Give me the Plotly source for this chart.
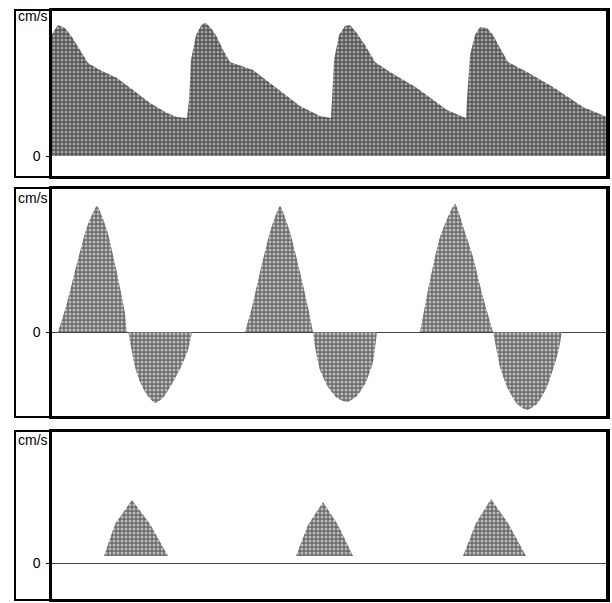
import plotly.graph_objects as go

# ---------------- data (time in ms, velocity in cm/s) ----------------
# Panel 1: continuous forward flow (low-resistance)
p1_t = [0, 30, 65, 100, 140, 180, 240, 325, 405, 490, 575, 625, 675, 685, 695, 720, 750, 770,
        795, 825, 855, 890, 1005, 1125, 1240, 1340, 1395, 1400, 1410, 1435, 1465, 1490, 1520,
        1565, 1615, 1690, 1825, 1975, 2055, 2070, 2075, 2090, 2115, 2140, 2175, 2205, 2240,
        2280, 2375, 2505, 2655, 2775]
p1_v = [122, 131, 128, 119, 106, 93, 86, 78, 66, 53, 43, 39, 38, 56, 96, 121, 132, 133,
        128, 119, 106, 94, 86, 68, 50, 40, 38, 56, 96, 121, 130, 131, 124,
        111, 94, 84, 68, 46, 39, 38, 56, 101, 121, 129, 128, 121, 108,
        94, 84, 69, 49, 39]

# Panel 2: to-and-fro (forward then reversed) flow, one list per beat
p2_beats_t = [
    [30, 75, 125, 175, 225, 275, 325, 365, 375,
     380, 395, 415, 440, 475, 515, 555, 600, 645, 680, 700],
    [965, 1000, 1040, 1090, 1140, 1190, 1240, 1280, 1305,
     1315, 1340, 1380, 1425, 1475, 1525, 1570, 1605, 1625],
    [1840, 1890, 1940, 2015, 2065, 2105, 2155, 2205,
     2225, 2240, 2275, 2325, 2375, 2425, 2475, 2530, 2550],
]
p2_beats_v = [
    [0, 29, 69, 105, 126, 102, 59, 19, 0,
     0, -15, -35, -50, -63, -71, -66, -52, -35, -18, 0],
    [0, 25, 60, 100, 126, 100, 60, 25, 0,
     -15, -38, -55, -66, -70, -64, -50, -30, 0],
    [0, 52, 95, 128, 100, 75, 35, 0,
     -20, -35, -55, -72, -78, -72, -55, -21, 0],
]

# Panel 3: short systolic spikes only (high-resistance)
p3_start = [260, 1220, 2055]
p3_mid_up = [315, 1280, 2120]
p3_peak_t = [400, 1355, 2195]
p3_mid_dn = [490, 1430, 2280]
p3_end = [580, 1505, 2370]
p3_peak_v = [63, 61, 64]
p3_mid_v = [39, 38, 40]
p3_base_v = [7, 7, 7]

T_RANGE = [0, 2775]
Y_RANGES = [[-21, 146], [-85, 144], [-37, 132]]
UNIT = "cm/s"
ZERO_LABEL = "0"

# ---------------- layout geometry (pixels) ----------------
W, H = 612, 603
X_OUT, X_IN, X_R = 15, 52, 607
PANELS = [(10, 177), (188, 417), (431, 600)]   # (top, bottom)
LABEL_Y = [16, 198, 440]

def px(x):
    return x / W

def py(y):
    return 1 - y / H

pattern1 = dict(shape=".", bgcolor="#545454", fgcolor="#a4a4a4", size=4, solidity=0.45, fillmode="replace")
pattern2 = dict(shape=".", bgcolor="#6a6a6a", fgcolor="#bcbcbc", size=4, solidity=0.45, fillmode="replace")

fig = go.Figure()

fig.add_trace(go.Scatter(x=p1_t, y=p1_v, mode="lines", line=dict(width=0, color="#555"),
                         fill="tozeroy", fillcolor="#6a6a6a", fillpattern=pattern1,
                         hoverinfo="skip", xaxis="x", yaxis="y"))

for bt, bv in zip(p2_beats_t, p2_beats_v):
    fig.add_trace(go.Scatter(x=bt, y=bv, mode="lines",
                             line=dict(width=0, color="#777", shape="spline", smoothing=0.5),
                             fill="tozeroy", fillcolor="#8a8a8a", fillpattern=pattern2,
                             hoverinfo="skip", xaxis="x2", yaxis="y2"))

tri_x, tri_y = [], []
for i in range(len(p3_start)):
    tri_x += [p3_start[i], p3_mid_up[i], p3_peak_t[i], p3_mid_dn[i], p3_end[i], None]
    tri_y += [p3_base_v[i], p3_mid_v[i], p3_peak_v[i], p3_mid_v[i], p3_base_v[i], None]
fig.add_trace(go.Scatter(x=tri_x, y=tri_y, mode="lines", line=dict(width=0, color="#777"),
                         fill="toself", fillcolor="#8a8a8a", fillpattern=pattern2,
                         hoverinfo="skip", xaxis="x3", yaxis="y3"))

layout = dict(width=W, height=H, margin=dict(l=0, r=0, t=0, b=0),
              paper_bgcolor="white", plot_bgcolor="white", showlegend=False,
              font=dict(family="Liberation Sans, Arial, sans-serif", size=14, color="black"))

shapes, annotations = [], []
for i, (top, bot) in enumerate(PANELS):
    sfx = "" if i == 0 else str(i + 1)
    dom_y = [py(bot), py(top)]
    layout["xaxis" + sfx] = dict(domain=[px(X_IN), px(X_R)], range=T_RANGE, anchor="y" + sfx,
                                 showticklabels=False, ticks="", showgrid=False, zeroline=False,
                                 showline=True, linecolor="black", linewidth=2, mirror=True)
    layout["yaxis" + sfx] = dict(domain=dom_y, range=Y_RANGES[i], anchor="x" + sfx,
                                 tickvals=[0], ticktext=[ZERO_LABEL], ticks="outside", ticklen=3,
                                 tickcolor="black", tickfont=dict(size=14), ticklabelstandoff=3,
                                 showgrid=False, zeroline=(i > 0), zerolinecolor="#444",
                                 zerolinewidth=1, showline=True, linecolor="black",
                                 linewidth=2.5, mirror=True)
    shapes.append(dict(type="rect", xref="paper", yref="paper", x0=px(X_OUT), x1=px(X_R),
                       y0=dom_y[0], y1=dom_y[1], line=dict(color="black", width=2)))
    annotations.append(dict(text=UNIT, xref="paper", yref="paper", x=px(X_OUT + 1), y=py(LABEL_Y[i]),
                            xanchor="left", yanchor="middle", showarrow=False, font=dict(size=14)))

layout["shapes"] = shapes
layout["annotations"] = annotations
fig.update_layout(**layout)

fig.write_html("out.html")
